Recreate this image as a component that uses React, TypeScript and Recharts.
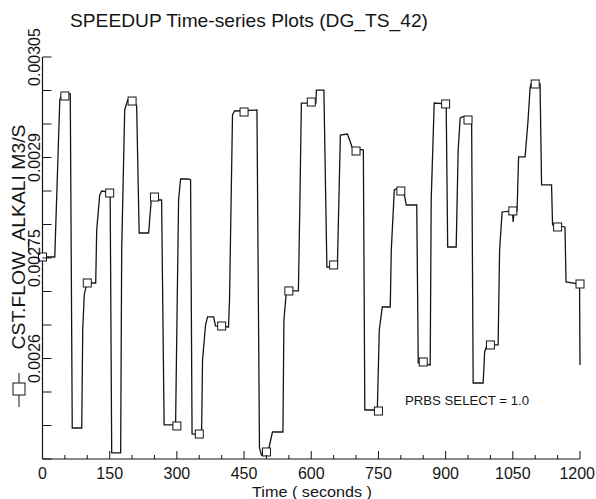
import React from 'react'
import { ComposedChart, Line, Scatter, XAxis, YAxis } from 'recharts'

// time (s) and CST.FLOW_ALKALI (M3/S)
const TIME = [
  0, 27.4, 38.6, 43.0, 62.0, 66.4, 87.6, 89.8, 93.2, 98.8,
  118.8, 121.0, 127.7, 132.2, 148.9, 151.1, 154.5, 174.5, 176.8, 183.5,
  190.2, 203.5, 210.2, 215.8, 237.0, 243.6, 250.3, 265.9, 271.5, 297.1,
  303.8, 308.3, 326.1, 330.6, 333.9, 355.1, 357.3, 364.0, 368.5, 381.9,
  386.3, 415.3, 417.5, 424.2, 428.7, 478.8, 484.4, 488.9, 500.0, 504.5,
  513.4, 536.8, 539.0, 544.6, 571.3, 574.7, 578.0, 610.4, 611.5, 628.2,
  634.9, 658.3, 665.0, 680.6, 687.3, 691.7, 716.3, 719.6, 747.5, 751.9,
  758.6, 776.4, 778.7, 785.4, 789.8, 805.4, 812.1, 835.5, 838.9, 865.6,
  867.8, 874.5, 899.0, 901.3, 904.6, 923.6, 928.0, 932.5, 936.9, 954.8,
  958.1, 961.5, 983.8, 987.1, 992.7, 1017.2, 1020.5, 1026.1, 1049.5, 1050.6,
  1052.8, 1059.5, 1062.9, 1077.4, 1084.1, 1088.5, 1090.8, 1110.8, 1114.2, 1136.5,
  1138.7, 1166.5, 1168.8, 1199.0, 1200,
]
const FLOW = [
  0.0027515, 0.0027515, 0.0029858, 0.0029948, 0.0029948, 0.0024963, 0.0024963, 0.0026425, 0.0026948, 0.0027127,
  0.0027127, 0.0027918, 0.002844, 0.00285, 0.0028485, 0.0028425, 0.002459, 0.002459, 0.002762, 0.0029709,
  0.0029858, 0.0029858, 0.0029769, 0.0027873, 0.0027873, 0.002844, 0.0028366, 0.0028366, 0.0025008, 0.0025008,
  0.0028366, 0.0028679, 0.0028679, 0.0028664, 0.0024873, 0.0024858, 0.0025978, 0.00265, 0.002662, 0.002662,
  0.0026485, 0.002647, 0.0026873, 0.0029634, 0.0029694, 0.0029709, 0.0024664, 0.002456, 0.002456, 0.0024635,
  0.0024903, 0.0024903, 0.0026575, 0.0027008, 0.0027008, 0.0028366, 0.0029813, 0.0029813, 0.0030007, 0.0030007,
  0.0027366, 0.0027366, 0.0029336, 0.0029351, 0.0029231, 0.0029142, 0.0029112, 0.0025231, 0.0025231, 0.0026425,
  0.0026769, 0.0026769, 0.002762, 0.0028515, 0.002853, 0.002853, 0.0028291, 0.0028291, 0.0025933, 0.0025903,
  0.0028366, 0.0029813, 0.0029799, 0.0029769, 0.0027664, 0.0027664, 0.0029112, 0.002959, 0.0029605, 0.0029605,
  0.0029485, 0.0025634, 0.0025634, 0.0026097, 0.0026202, 0.0026202, 0.002762, 0.0028187, 0.0028202, 0.0028037,
  0.0028187, 0.0028202, 0.0029008, 0.0029008, 0.002956, 0.0030037, 0.0030097, 0.0030097, 0.002859, 0.002859,
  0.0027993, 0.0027963, 0.0027142, 0.0027112, 0.0025903,
]

// square markers on the trace
const MARK_TIME = [0, 50, 100, 150, 200, 250, 300, 350, 400, 450, 500, 550, 600, 650, 700, 750, 800, 850, 900, 950, 1000, 1050, 1100, 1150, 1200]
const MARK_FLOW = [
  0.0027515, 0.0029918, 0.0027127, 0.002847, 0.0029843, 0.002841, 0.0024993, 0.0024873, 0.0026485, 0.0029679,
  0.0024605, 0.0027008, 0.0029828, 0.0027396, 0.0029097, 0.0025216, 0.00285, 0.0025948, 0.0029799, 0.002956,
  0.0026202, 0.0028202, 0.0030097, 0.0027963, 0.0027112,
]

const X_TICKS = [0, 50, 100, 150, 200, 250, 300, 350, 400, 450, 500, 550, 600, 650, 700, 750, 800, 850, 900, 950, 1000, 1050, 1100, 1150, 1200]
const X_LABELS = [0, 150, 300, 450, 600, 750, 900, 1050, 1200]
const Y_TICKS = [0.00245, 0.0025, 0.00255, 0.0026, 0.00265, 0.0027, 0.00275, 0.0028, 0.00285, 0.0029, 0.00295, 0.003, 0.00305]
const Y_LABELS = ['0.0026', '0.00275', '0.0029', '0.00305']

const lineData = TIME.map((t, i) => ({ t, v: FLOW[i] }))
const markData = MARK_TIME.map((t, i) => ({ t, v: MARK_FLOW[i] }))

const FONT = '"Liberation Sans", Arial, Helvetica, sans-serif'
const INK = '#151515'
const PLOT_LEFT = 42.5
const PLOT_BOTTOM = 459

const fmtY = (v: number): string => String(parseFloat(v.toFixed(5)))

const XTick = (props: any) => {
  const { x, payload } = props
  const major = X_LABELS.includes(payload.value)
  const last = payload.value === X_LABELS[X_LABELS.length - 1]
  return (
    <g>
      <line x1={x} x2={x} y1={PLOT_BOTTOM} y2={PLOT_BOTTOM - (major ? 8 : 4)} stroke={INK} strokeWidth={1} />
      {major && (
        <text
          x={last ? 595 : x}
          y={479}
          textAnchor={last ? 'end' : 'middle'}
          fontSize={16}
          fontFamily={FONT}
          fill={INK}
        >
          {payload.value}
        </text>
      )}
    </g>
  )
}

const YTick = (props: any) => {
  const { y, payload } = props
  const label = fmtY(payload.value)
  return (
    <g>
      <line x1={PLOT_LEFT} x2={PLOT_LEFT + 9} y1={y} y2={y} stroke={INK} strokeWidth={1} />
      {Y_LABELS.includes(label) && (
        <text
          x={40}
          y={y}
          transform={`rotate(-90, 40, ${y})`}
          textAnchor="middle"
          fontSize={16}
          fontFamily={FONT}
          fill={INK}
        >
          {label}
        </text>
      )}
    </g>
  )
}

const Square = (props: any) => {
  const { cx, cy } = props
  return <rect x={cx - 4} y={cy - 4} width={8} height={8} fill="#fff" stroke={INK} strokeWidth={1} />
}

export default function App() {
  return (
    <div style={{ position: 'absolute', left: 0, top: 0, width: 596, height: 499, background: '#fff' }}>
      <ComposedChart width={596} height={499} margin={{ top: 57, right: 16, bottom: 10, left: 2 }}>
        <XAxis
          type="number"
          dataKey="t"
          domain={[0, 1200]}
          ticks={X_TICKS}
          interval={0}
          height={30}
          tickLine={false}
          axisLine={{ stroke: INK, strokeWidth: 1.2 }}
          tick={XTick}
        />
        <YAxis
          type="number"
          dataKey="v"
          domain={[0.00245, 0.00305]}
          ticks={Y_TICKS}
          interval={0}
          width={40.5}
          tickLine={false}
          axisLine={{ stroke: INK, strokeWidth: 1.2 }}
          tick={YTick}
        />
        <Line
          data={lineData}
          dataKey="v"
          type="linear"
          stroke={INK}
          strokeWidth={1.3}
          dot={false}
          activeDot={false}
          isAnimationActive={false}
        />
        <Scatter data={markData} dataKey="v" shape={Square} isAnimationActive={false} />
      </ComposedChart>
      <svg width={596} height={499} style={{ position: 'absolute', left: 0, top: 0, pointerEvents: 'none' }}>
        <text x={70} y={27} fontSize={19} fontFamily={FONT} fill={INK} textLength={358} lengthAdjust="spacingAndGlyphs">
          SPEEDUP Time-series Plots (DG_TS_42)
        </text>
        <text
          x={25}
          y={237}
          transform="rotate(-90, 25, 237)"
          textAnchor="middle"
          fontSize={18}
          fontFamily={FONT}
          fill={INK}
          textLength={225}
          lengthAdjust="spacingAndGlyphs"
        >
          CST.FLOW_ALKALI  M3/S
        </text>
        <line x1={19} x2={19} y1={373} y2={407} stroke={INK} strokeWidth={1} />
        <rect x={13} y={383} width={12} height={12} fill="#fff" stroke={INK} strokeWidth={1} />
        <text x={312} y={497} textAnchor="middle" fontSize={15} fontFamily={FONT} fill={INK} textLength={120} lengthAdjust="spacingAndGlyphs">
          Time ( seconds )
        </text>
        <text x={405} y={405} fontSize={13} fontFamily={FONT} fill={INK} textLength={124} lengthAdjust="spacingAndGlyphs">
          PRBS SELECT  = 1.0
        </text>
      </svg>
    </div>
  )
}
